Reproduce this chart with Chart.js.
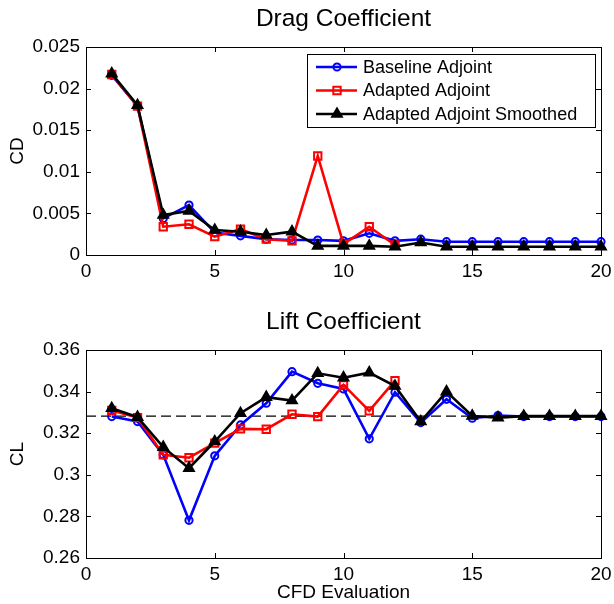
<!DOCTYPE html>
<html>
<head>
<meta charset="utf-8">
<script src="https://cdn.jsdelivr.net/npm/chart.js@4.4.1/dist/chart.umd.min.js"></script>
<style>
  html, body { margin: 0; padding: 0; background: #fff; }
  #wrap { position: relative; width: 614px; height: 604px; }
  .panel { position: absolute; left: 0; width: 614px; }
  #p1 { top: 0; height: 302px; }
  #p2 { top: 303px; height: 301px; }
</style>
</head>
<body>
<div id="wrap">
  <div class="panel" id="p1"><canvas id="drag" width="614" height="302"></canvas></div>
  <div class="panel" id="p2"><canvas id="lift" width="614" height="301"></canvas></div>
</div>
<script>
// CFD evaluation index
const evaluations = [1, 2, 3, 4, 5, 6, 7, 8, 9, 10, 11, 12, 13, 14, 15, 16, 17, 18, 19, 20];

// Drag coefficient history
const cdBaseline = [0.0216, 0.0179, 0.0044, 0.0060, 0.0027, 0.0023, 0.0019, 0.0018, 0.0018, 0.0017,
                    0.0026, 0.0017, 0.0019, 0.0016, 0.0016, 0.0016, 0.0016, 0.0016, 0.0016, 0.0016];
const cdAdapted  = [0.0217, 0.0179, 0.0034, 0.0037, 0.0022, 0.0031, 0.0019, 0.0017, 0.0119, 0.0013,
                    0.0034, 0.0012];
const cdSmoothed = [0.0218, 0.0180, 0.0048, 0.0053, 0.0030, 0.0028, 0.0024, 0.0028, 0.0011, 0.0011,
                    0.0011, 0.0010, 0.0015, 0.0010, 0.0010, 0.0010, 0.0010, 0.0010, 0.0010, 0.0010];

// Lift coefficient history
const clBaseline = [0.3280, 0.3256, 0.3096, 0.2781, 0.3091, 0.3240, 0.3344, 0.3496, 0.3440, 0.3413,
                    0.3173, 0.3397, 0.3251, 0.3363, 0.3272, 0.3285, 0.3280, 0.3280, 0.3280, 0.3280];
const clAdapted  = [0.3309, 0.3275, 0.3096, 0.3082, 0.3152, 0.3221, 0.3219, 0.3291, 0.3280, 0.3432,
                    0.3307, 0.3453];
const clSmoothed = [0.3320, 0.3277, 0.3133, 0.3032, 0.3160, 0.3296, 0.3373, 0.3357, 0.3488, 0.3467,
                    0.3491, 0.3427, 0.3256, 0.3400, 0.3283, 0.3275, 0.3282, 0.3282, 0.3282, 0.3282];
const clTarget = 0.3282;

// Axis ticks
const xTickValues = [0, 5, 10, 15, 20];
const xTickLabels = ['0', '5', '10', '15', '20'];
const cdTickValues = [0, 0.005, 0.01, 0.015, 0.02, 0.025];
const cdTickLabels = ['0', '0.005', '0.01', '0.015', '0.02', '0.025'];
const clTickValues = [0.26, 0.28, 0.30, 0.32, 0.34, 0.36];
const clTickLabels = ['0.26', '0.28', '0.3', '0.32', '0.34', '0.36'];

const seriesNames = ['Baseline Adjoint', 'Adapted Adjoint', 'Adapted Adjoint Smoothed'];

const FONT = '"Liberation Sans", Arial, Helvetica, sans-serif';
const PLOT_LEFT = 86;
const PLOT_BOTTOM = 255;

function points(values) {
  return values.map((y, i) => ({ x: evaluations[i], y }));
}

const styles = [
  { color: '#0000ff', pointStyle: 'circle',   radius: 3.6, fill: 'rgba(0,0,0,0)', order: 3 },
  { color: '#ff0000', pointStyle: 'rect',     radius: 5.2, fill: 'rgba(0,0,0,0)', order: 2 },
  { color: '#000000', pointStyle: 'triangle', radius: 5.6, fill: '#000000',       order: 1 }
];

function seriesDataset(i, values) {
  const s = styles[i];
  return {
    label: seriesNames[i],
    data: points(values),
    borderColor: s.color,
    backgroundColor: s.color,
    borderWidth: 2.6,
    pointStyle: s.pointStyle,
    pointRadius: s.radius,
    pointBorderWidth: 2,
    pointBorderColor: s.color,
    pointBackgroundColor: s.fill,
    tension: 0,
    clip: false,
    order: s.order
  };
}

// Box around the axes with inward tick marks on all four sides
const framePlugin = {
  id: 'frame',
  afterDatasetsDraw(chart) {
    const { ctx, chartArea: a } = chart;
    const xs = chart.scales.x, ys = chart.scales.y;
    const len = 5;
    ctx.save();
    ctx.strokeStyle = '#000';
    ctx.lineWidth = 1;
    ctx.beginPath();
    xs.ticks.forEach(t => {
      const px = Math.round(xs.getPixelForValue(t.value)) + 0.5;
      ctx.moveTo(px, a.bottom); ctx.lineTo(px, a.bottom - len);
      ctx.moveTo(px, a.top);    ctx.lineTo(px, a.top + len);
    });
    ys.ticks.forEach(t => {
      const py = Math.round(ys.getPixelForValue(t.value)) + 0.5;
      ctx.moveTo(a.left, py);  ctx.lineTo(a.left + len, py);
      ctx.moveTo(a.right, py); ctx.lineTo(a.right - len, py);
    });
    ctx.stroke();
    ctx.strokeRect(Math.round(a.left) + 0.5, Math.round(a.top) + 0.5,
                   Math.round(a.right - a.left), Math.round(a.bottom - a.top));
    ctx.restore();
  }
};

function drawMarker(ctx, style, x, y) {
  ctx.save();
  ctx.lineWidth = 2;
  ctx.strokeStyle = style.color;
  ctx.fillStyle = style.fill;
  ctx.beginPath();
  const r = style.radius;
  if (style.pointStyle === 'circle') {
    ctx.arc(x, y, r, 0, Math.PI * 2);
  } else if (style.pointStyle === 'rect') {
    const h = r * Math.SQRT1_2;
    ctx.rect(x - h, y - h, 2 * h, 2 * h);
  } else {
    for (let k = 0; k < 3; k++) {
      const ang = k * 2 * Math.PI / 3;
      const px = x + Math.sin(ang) * r, py = y - Math.cos(ang) * r;
      if (k === 0) ctx.moveTo(px, py); else ctx.lineTo(px, py);
    }
    ctx.closePath();
  }
  ctx.fill();
  ctx.stroke();
  ctx.restore();
}

// Boxed legend in the upper right of the drag axes
const legendBoxPlugin = {
  id: 'legendBox',
  afterDraw(chart) {
    const { ctx, chartArea: a } = chart;
    const w = 288, h = 73;
    const left = Math.round(a.right - 6 - w), top = Math.round(a.top + 7);
    ctx.save();
    ctx.fillStyle = '#fff';
    ctx.fillRect(left, top, w, h);
    ctx.strokeStyle = '#000';
    ctx.lineWidth = 1;
    ctx.strokeRect(left + 0.5, top + 0.5, w, h);
    ctx.font = '18px ' + FONT;
    ctx.textBaseline = 'middle';
    ctx.textAlign = 'left';
    const rows = [13, 36.5, 60];
    seriesNames.forEach((name, i) => {
      const y = top + rows[i];
      const s = styles[i];
      ctx.strokeStyle = s.color;
      ctx.lineWidth = 2.6;
      ctx.beginPath();
      ctx.moveTo(left + 9, y); ctx.lineTo(left + 50, y);
      ctx.stroke();
      drawMarker(ctx, s, left + 30, y);
      ctx.fillStyle = '#000';
      ctx.fillText(name, left + 56, y + 1);
    });
    ctx.restore();
  }
};

function makeOptions(cfg) {
  return {
    responsive: false,
    animation: false,
    events: [],
    layout: { padding: { left: 0, right: 13, top: 0, bottom: 0 } },
    plugins: {
      legend: { display: false },
      tooltip: { enabled: false },
      title: {
        display: true,
        fullSize: false,
        text: cfg.title,
        color: '#000',
        font: { family: FONT, size: 24.5, weight: 'normal' },
        padding: { top: 5, bottom: 12.6 }
      }
    },
    scales: {
      x: {
        type: 'linear',
        min: 0, max: 20,
        afterBuildTicks(scale) { scale.ticks = xTickValues.map(v => ({ value: v })); },
        afterFit(scale) {
          scale.height = cfg.canvasHeight - PLOT_BOTTOM;
          scale.paddingLeft = 0;
          scale.paddingRight = 0;
        },
        grid: { display: false, drawTicks: false },
        border: { display: false },
        ticks: {
          color: '#000',
          font: { family: FONT, size: 19 },
          padding: 5,
          maxRotation: 0,
          callback: (v, i) => xTickLabels[i]
        },
        title: {
          display: !!cfg.xTitle,
          text: cfg.xTitle || '',
          color: '#000',
          font: { family: FONT, size: 19 },
          padding: { top: 0, bottom: 0 }
        }
      },
      y: {
        type: 'linear',
        min: cfg.yTicks[0], max: cfg.yTicks[cfg.yTicks.length - 1],
        afterBuildTicks(scale) { scale.ticks = cfg.yTicks.map(v => ({ value: v })); },
        afterFit(scale) { scale.width = PLOT_LEFT; },
        grid: { display: false, drawTicks: false },
        border: { display: false },
        ticks: {
          color: '#000',
          font: { family: FONT, size: 19 },
          padding: 6,
          callback: (v, i) => cfg.yLabels[i]
        },
        title: {
          display: true,
          text: cfg.yTitle,
          color: '#000',
          font: { family: FONT, size: 19 },
          padding: { top: 6, bottom: 0 }
        }
      }
    }
  };
}

new Chart(document.getElementById('drag'), {
  type: 'line',
  data: {
    datasets: [
      seriesDataset(0, cdBaseline),
      seriesDataset(1, cdAdapted),
      seriesDataset(2, cdSmoothed)
    ]
  },
  options: makeOptions({
    title: 'Drag Coefficient', yTitle: 'CD', canvasHeight: 302,
    yTicks: cdTickValues, yLabels: cdTickLabels
  }),
  plugins: [framePlugin, legendBoxPlugin]
});

new Chart(document.getElementById('lift'), {
  type: 'line',
  data: {
    datasets: [
      seriesDataset(0, clBaseline),
      seriesDataset(1, clAdapted),
      seriesDataset(2, clSmoothed),
      {
        label: 'Target',
        data: [{ x: 0, y: clTarget }, { x: 20, y: clTarget }],
        borderColor: '#000',
        borderWidth: 1.4,
        borderDash: [10, 5],
        pointRadius: 0,
        order: 4
      }
    ]
  },
  options: makeOptions({
    title: 'Lift Coefficient', yTitle: 'CL', xTitle: 'CFD Evaluation', canvasHeight: 301,
    yTicks: clTickValues, yLabels: clTickLabels
  }),
  plugins: [framePlugin]
});
</script>
</body>
</html>
